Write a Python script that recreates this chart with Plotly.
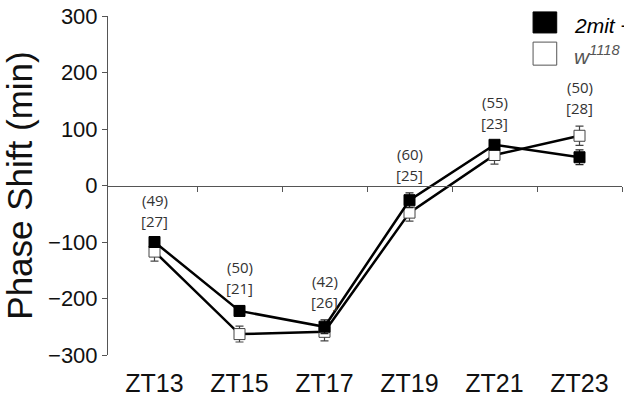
import plotly.graph_objects as go

categories = ["ZT13", "ZT15", "ZT17", "ZT19", "ZT21", "ZT23"]
mutant_values = [-100, -222, -250, -26, 72, 50]
mutant_errors = [6, 9, 12, 13, 6, 13]
wt_values = [-117, -263, -259, -48, 54, 88]
wt_errors = [17, 14, 16, 15, 16, 17]
mutant_n = [49, 50, 42, 60, 55, 50]
wt_n = [27, 21, 26, 25, 23, 28]
y_ticks = [-300, -200, -100, 0, 100, 200, 300]

xs = list(range(len(categories)))
AX = "#555555"

fig = go.Figure()
fig.add_trace(go.Scatter(
    x=xs, y=wt_values, mode="lines+markers",
    line=dict(color="black", width=2.5),
    marker=dict(symbol="square", size=11, color="white", line=dict(color="#444", width=1)),
    error_y=dict(type="data", array=wt_errors, color="#444", thickness=1.2, width=4),
    showlegend=False, hoverinfo="skip",
))
fig.add_trace(go.Scatter(
    x=xs, y=mutant_values, mode="lines+markers",
    line=dict(color="black", width=2.5),
    marker=dict(symbol="square", size=11, color="black", line=dict(color="black", width=1)),
    error_y=dict(type="data", array=mutant_errors, color="#222", thickness=1.2, width=4),
    showlegend=False, hoverinfo="skip",
))
# invisible trace for the zero-line axis
fig.add_trace(go.Scatter(x=[0], y=[0], xaxis="x2", mode="markers",
                         marker=dict(opacity=0), showlegend=False, hoverinfo="skip"))

ann = []
for i in xs:
    top = max(mutant_values[i] + mutant_errors[i], wt_values[i] + wt_errors[i])
    ann.append(dict(x=i, y=top, text=f"[{wt_n[i]}]", showarrow=False, yanchor="middle",
                    yshift=18, font=dict(family="Open Sans", size=15, color="#333")))
    ann.append(dict(x=i, y=top, text=f"({mutant_n[i]})", showarrow=False, yanchor="middle",
                    yshift=39, font=dict(family="Open Sans", size=15, color="#333")))

ann.append(dict(xref="paper", yref="paper", x=0.903, y=0.973, xanchor="left", yanchor="middle",
                text="<i>2mit −/−</i>", showarrow=False,
                font=dict(family="Arial, Liberation Sans", size=21, color="black")))
ann.append(dict(xref="paper", yref="paper", x=0.903, y=0.885, xanchor="left", yanchor="middle",
                text="<i>w<sup>1118</sup></i>", showarrow=False,
                font=dict(family="Arial, Liberation Sans", size=21, color="#555")))

shapes = [
    dict(type="rect", xref="paper", yref="paper", x0=0.827, x1=0.873, y0=0.950, y1=1.012,
         fillcolor="black", line=dict(color="black", width=1)),
    dict(type="rect", xref="paper", yref="paper", x0=0.827, x1=0.873, y0=0.855, y1=0.923,
         fillcolor="white", line=dict(color="#555", width=1)),
]

fig.update_layout(
    width=624, height=398,
    margin=dict(l=108, r=2, t=16, b=43, autoexpand=False),
    paper_bgcolor="white", plot_bgcolor="white",
    font=dict(family="Arial, Liberation Sans", color="black"),
    annotations=ann, shapes=shapes,
    xaxis=dict(range=[-0.547, 5.5], tickvals=xs, ticktext=categories, automargin=False,
               showline=False, showgrid=False, zeroline=False, ticks="",
               tickfont=dict(size=25, color="#111"), ticklabelstandoff=11),
    xaxis2=dict(overlaying="x", matches="x", anchor="free", position=0.5, side="bottom",
                tickvals=[i + 0.5 for i in xs], automargin=False,
                showticklabels=False, ticks="outside", ticklen=5, tickcolor=AX,
                showline=True, linecolor=AX, linewidth=1, showgrid=False, zeroline=False),
    yaxis=dict(range=[-300, 300], tickvals=y_ticks, showgrid=False, zeroline=False, automargin=False,
               showline=True, linecolor=AX, linewidth=1, ticks="outside", ticklen=5,
               tickcolor=AX, tickfont=dict(size=22, color="#111"),
               title=dict(text="Phase Shift (min)", font=dict(size=35, color="#111"), standoff=6)),
)

# remove the default 8px page margin so the figure sits at the window's corner
fig.write_html("out.html", config={"displayModeBar": False},
               post_script="document.body.style.margin='0px';document.body.style.padding='0px';")
